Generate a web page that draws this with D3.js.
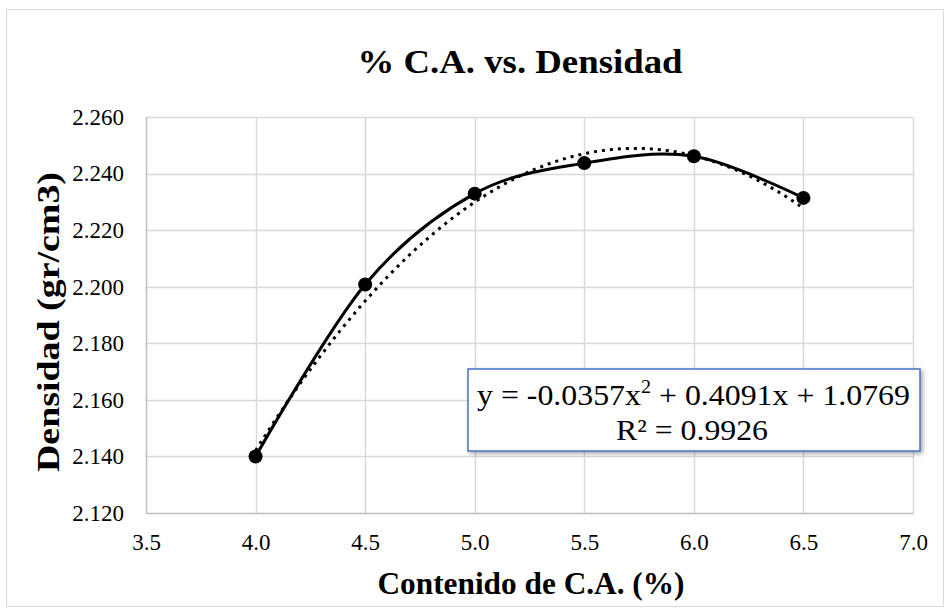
<!DOCTYPE html>
<html>
<head>
<meta charset="utf-8">
<script src="https://cdn.jsdelivr.net/npm/d3@7"></script>
<style>
html,body{margin:0;padding:0;background:#fff;}
</style>
</head>
<body>
<svg id="chart" width="950" height="613"></svg>
<script>
const contenido = [4.0, 4.5, 5.0, 5.5, 6.0, 6.5];
const densidad = [2.140, 2.2008, 2.2329, 2.2437, 2.2461, 2.2314];
const xTicks = [3.5, 4.0, 4.5, 5.0, 5.5, 6.0, 6.5, 7.0];
const yTicks = [2.120, 2.140, 2.160, 2.180, 2.200, 2.220, 2.240, 2.260];
const trendCoef = [-0.0357, 0.4091, 1.0769];
const rSquared = "0.9926";
const title = "% C.A. vs. Densidad";
const xTitle = "Contenido de C.A. (%)";
const yTitle = "Densidad (gr/cm3)";

(function () {
const FF = '"Liberation Serif"';
const svg = d3.select("#chart");
const pL = 146, pR = 913, pT = 117, pB = 513;
const x = d3.scaleLinear().domain([3.5, 7.0]).range([pL, pR]);
const y = d3.scaleLinear().domain([2.120, 2.260]).range([pB, pT]);

// outer border
svg.append("rect").attr("x", 6.5).attr("y", 9.5).attr("width", 937).attr("height", 597)
  .attr("fill", "#fff").attr("stroke", "#d9d9d9").attr("stroke-width", 1);

// gridlines
svg.append("g").selectAll("line").data(yTicks.slice(1)).join("line")
  .attr("x1", pL).attr("x2", pR)
  .attr("y1", d => Math.round(y(d)) + 0.5).attr("y2", d => Math.round(y(d)) + 0.5)
  .attr("stroke", "#d9d9d9").attr("stroke-width", 1.5);
svg.append("g").selectAll("line").data(xTicks.slice(1)).join("line")
  .attr("y1", pT).attr("y2", pB)
  .attr("x1", d => Math.round(x(d)) + 0.5).attr("x2", d => Math.round(x(d)) + 0.5)
  .attr("stroke", "#d9d9d9").attr("stroke-width", 1.5);

// axes
const xAxis = svg.append("g").attr("transform", `translate(0,${pB})`)
  .call(d3.axisBottom(x).tickValues(xTicks).tickFormat(d3.format(".1f")).tickSize(0).tickPadding(21));
const yAxis = svg.append("g").attr("transform", `translate(${pL},0)`)
  .call(d3.axisLeft(y).tickValues(yTicks).tickFormat(d3.format(".3f")).tickSize(0).tickPadding(22));
[xAxis, yAxis].forEach(a => {
  a.attr("font-family", null).attr("font-size", null);
  a.select(".domain").attr("stroke", "#bfbfbf").attr("stroke-width", 1.5);
  a.selectAll("text").style("font-family", FF).style("font-size", "23px").attr("fill", "#000");
});

// trendline (polynomial order 2)
const trendFn = v => trendCoef[0] * v * v + trendCoef[1] * v + trendCoef[2];
const tx = d3.range(0, 101).map(i => contenido[0] + (contenido[contenido.length - 1] - contenido[0]) * i / 100);
svg.append("path").datum(tx)
  .attr("d", d3.line().x(d => x(d)).y(d => y(trendFn(d))))
  .attr("fill", "none").attr("stroke", "#000").attr("stroke-width", 3)
  .attr("stroke-dasharray", "3,5");

// smoothed series line
const pts = contenido.map((c, i) => [c, densidad[i]]);
svg.append("path").datum(pts)
  .attr("d", d3.line().x(d => x(d[0])).y(d => y(d[1])).curve(d3.curveCardinal.tension(0)))
  .attr("fill", "none").attr("stroke", "#000").attr("stroke-width", 3);
svg.append("g").selectAll("circle").data(pts).join("circle")
  .attr("cx", d => x(d[0])).attr("cy", d => y(d[1])).attr("r", 7).attr("fill", "#000");

// equation box
const defs = svg.append("defs");
const f = defs.append("filter").attr("id", "sh").attr("x", "-10%").attr("y", "-10%").attr("width", "120%").attr("height", "130%");
f.append("feDropShadow").attr("dx", 2).attr("dy", 2).attr("stdDeviation", 2).attr("flood-color", "#000").attr("flood-opacity", 0.35);
svg.append("rect").attr("x", 468).attr("y", 369).attr("width", 452).attr("height", 82)
  .attr("fill", "#fff").attr("stroke", "#4472c4").attr("stroke-width", 1.5).attr("filter", "url(#sh)");
const eq = svg.append("text").attr("x", 477).attr("y", 405)
  .style("font-family", FF).style("font-size", "30px").attr("fill", "#000");
eq.append("tspan").text(`y = ${trendCoef[0]}x`);
eq.append("tspan").style("font-size", "19px").attr("dy", -12).text("2");
eq.append("tspan").attr("dy", 12).text(` + ${trendCoef[1]}x + ${trendCoef[2]}`);
// fit equation width to reference
const eqW = eq.node().getComputedTextLength();
const sx = 433 / eqW;
eq.attr("transform", `translate(477,0) scale(${sx},1) translate(-477,0)`);
svg.append("text").attr("x", 692).attr("y", 440).attr("text-anchor", "middle")
  .style("font-family", FF).style("font-size", "30px").attr("fill", "#000")
  .attr("textLength", 152).attr("lengthAdjust", "spacingAndGlyphs")
  .text(`R² = ${rSquared}`);

// titles
svg.append("text").attr("x", 520).attr("y", 73).attr("text-anchor", "middle")
  .style("font-family", FF).style("font-size", "33px").style("font-weight", "bold").attr("fill", "#000")
  .attr("textLength", 325).attr("lengthAdjust", "spacingAndGlyphs").text(title);
svg.append("text").attr("x", 531).attr("y", 594).attr("text-anchor", "middle")
  .style("font-family", FF).style("font-size", "31px").style("font-weight", "bold").attr("fill", "#000")
  .attr("textLength", 307).attr("lengthAdjust", "spacingAndGlyphs").text(xTitle);
svg.append("text").attr("transform", "translate(59,322) rotate(-90)").attr("text-anchor", "middle")
  .style("font-family", FF).style("font-size", "31px").style("font-weight", "bold").attr("fill", "#000")
  .attr("textLength", 300).attr("lengthAdjust", "spacingAndGlyphs").text(yTitle);
})();
</script>
</body>
</html>
